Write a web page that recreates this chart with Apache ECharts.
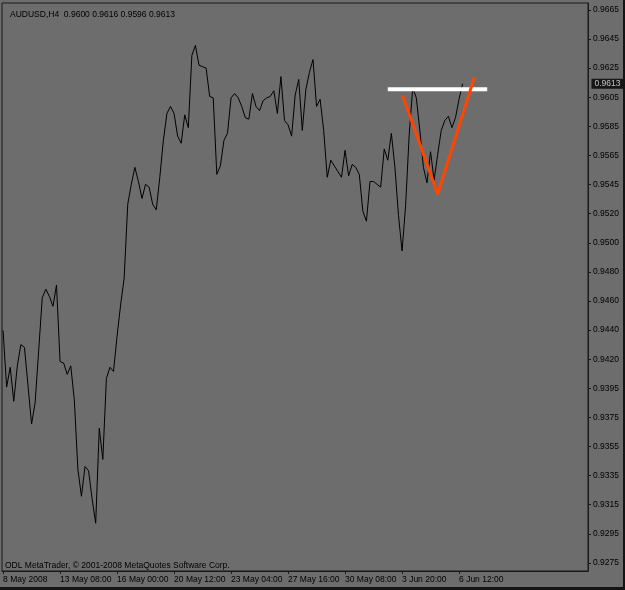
<!DOCTYPE html>
<html>
<head>
<meta charset="utf-8">
<script src="https://cdn.jsdelivr.net/npm/echarts@6/dist/echarts.min.js"></script>
<style>
html,body{margin:0;padding:0;background:#141414;}
#chart{width:623px;height:587px;}
</style>
</head>
<body>
<div id="chart"></div>
<script>
// ---- data ----
const titleText = 'AUDUSD,H4  0.9600 0.9616 0.9596 0.9613';
const copyrightText = 'ODL MetaTrader, \u00A9 2001-2008 MetaQuotes Software Corp.';

// bar index of each time label, and the labels
const xTickIndex = [0, 16, 32, 48, 64, 80, 96, 112, 128];
const xTickLabels = ['8 May 2008', '13 May 08:00', '16 May 00:00', '20 May 12:00', '23 May 04:00',
  '27 May 16:00', '30 May 08:00', '3 Jun 20:00', '6 Jun 12:00'];

// price scale labels (top to bottom)
const yTickLabels = ['0.9665', '0.9645', '0.9625', '0.9605', '0.9585', '0.9565', '0.9545', '0.9520',
  '0.9500', '0.9480', '0.9460', '0.9440', '0.9420', '0.9395', '0.9375', '0.9355', '0.9335',
  '0.9315', '0.9295', '0.9275'];

// H4 close prices, one per bar
const closes = [
  0.9439, 0.9399, 0.9413, 0.9389, 0.9414, 0.9429, 0.9427, 0.9400, 0.9373, 0.9388,
  0.9425, 0.9462, 0.9468, 0.9463, 0.9456, 0.9471, 0.9417, 0.9416, 0.9408, 0.9414,
  0.9390, 0.9341, 0.9322, 0.9343, 0.9340, 0.9320, 0.9303, 0.9370, 0.9348, 0.9405,
  0.9413, 0.9410, 0.9435, 0.9457, 0.9476, 0.9528, 0.9542, 0.9554, 0.9544, 0.9532,
  0.9542, 0.9540, 0.9528, 0.9524, 0.9547, 0.9573, 0.9592, 0.9597, 0.9592, 0.9576,
  0.9571, 0.9591, 0.9582, 0.9633, 0.9640, 0.9626, 0.9625, 0.9624, 0.9604, 0.9603,
  0.9549, 0.9555, 0.9573, 0.9578, 0.9603, 0.9606, 0.9603, 0.9597, 0.9589, 0.9588,
  0.9606, 0.9597, 0.9594, 0.9601, 0.9603, 0.9604, 0.9608, 0.9592, 0.9618, 0.9587,
  0.9584, 0.9576, 0.9605, 0.9616, 0.9580, 0.9609, 0.9621, 0.9630, 0.9597, 0.9602,
  0.9580, 0.9547, 0.9559, 0.9555, 0.9551, 0.9547, 0.9566, 0.9548, 0.9556, 0.9554,
  0.9549, 0.9523, 0.9516, 0.9544, 0.9544, 0.9542, 0.9540, 0.9567, 0.9559, 0.9578,
  0.9554, 0.9520, 0.9495, 0.9527, 0.9577, 0.9610, 0.9603, 0.9580, 0.9554, 0.9543,
  0.9565, 0.9545, 0.9563, 0.9580, 0.9587, 0.9590, 0.9582, 0.9589, 0.9602, 0.9613
];

const bidPrice = 0.9613;

// drawn objects (bar index, price)
const whiteLine = [[108.0, 0.96091], [135.9, 0.96091]];
const orangeLine = [[112.1, 0.96050], [122.0, 0.95350], [132.3, 0.96175]];

// ---- chart ----
const X_MIN = -0.3, X_MAX = 164.2;
const yTop = Number(yTickLabels[0]);
const yBot = Number(yTickLabels[yTickLabels.length - 1]);
const yStep = (yTop - yBot) / (yTickLabels.length - 1);
const yTickPos = yTickLabels.map((t, k) => yTop - k * yStep);

const FONT = 'Liberation Sans';
const chart = echarts.init(document.getElementById('chart'), null, {renderer: 'canvas'});
chart.setOption({
  animation: false,
  backgroundColor: '#6d6d6d',
  textStyle: {fontFamily: FONT},
  title: {
    text: titleText, left: 5, top: 5,
    textStyle: {fontSize: 8.5, fontWeight: 'normal', color: '#000', fontFamily: FONT}
  },
  graphic: [{
    type: 'text', left: 5, top: 561,
    style: {text: copyrightText, fill: '#000', fontSize: 8.5, fontFamily: FONT}
  }],
  grid: {left: 2, top: 3, right: 35, bottom: 16, show: true, borderColor: '#1a1a1a', borderWidth: 1, backgroundColor: 'transparent'},
  xAxis: {
    type: 'value', min: X_MIN, max: X_MAX,
    splitLine: {show: false},
    axisLine: {show: true, onZero: false, lineStyle: {color: '#1a1a1a', width: 1}},
    axisTick: {show: true, length: 3, customValues: xTickIndex, lineStyle: {color: '#1a1a1a'}},
    axisLabel: {
      customValues: xTickIndex, align: 'left', margin: 4, fontSize: 8.5, color: '#000',
      fontFamily: FONT,
      formatter: function (v) {
        const k = xTickIndex.indexOf(Math.round(v));
        return k >= 0 ? xTickLabels[k] : '';
      }
    }
  },
  yAxis: {
    type: 'value', position: 'right', min: 0.92693, max: 0.96699, scale: true,
    splitLine: {show: false},
    axisLine: {show: true, onZero: false, lineStyle: {color: '#1a1a1a', width: 1}},
    axisTick: {show: true, length: 3, customValues: yTickPos, lineStyle: {color: '#1a1a1a'}},
    axisLabel: {
      customValues: yTickPos, margin: 5, fontSize: 8.5, color: '#000', fontFamily: FONT,
      formatter: function (v) {
        let best = 0, bd = Infinity;
        yTickPos.forEach((p, k) => { const d = Math.abs(p - v); if (d < bd) { bd = d; best = k; } });
        return yTickLabels[best];
      }
    }
  },
  series: [
    {
      type: 'line', data: closes.map((v, i) => [i, v]), symbol: 'none',
      lineStyle: {color: '#000', width: 1}, z: 2
    },
    {
      type: 'line', data: whiteLine, symbol: 'none',
      lineStyle: {color: '#ffffff', width: 4, cap: 'butt'}, z: 3
    },
    {
      type: 'line', data: orangeLine, symbol: 'none',
      lineStyle: {color: '#ff4500', width: 3}, z: 4
    },
    {
      type: 'scatter', data: [[X_MAX, bidPrice]], symbolSize: 1, clip: false, silent: true,
      itemStyle: {color: 'rgba(0,0,0,0)'}, z: 10,
      label: {
        show: true, position: 'right', distance: 3, formatter: bidPrice.toFixed(4),
        backgroundColor: '#000', color: '#e8e8e8', padding: [1, 3, 0, 3],
        fontSize: 8.5, fontFamily: FONT
      }
    }
  ]
});
</script>
</body>
</html>
